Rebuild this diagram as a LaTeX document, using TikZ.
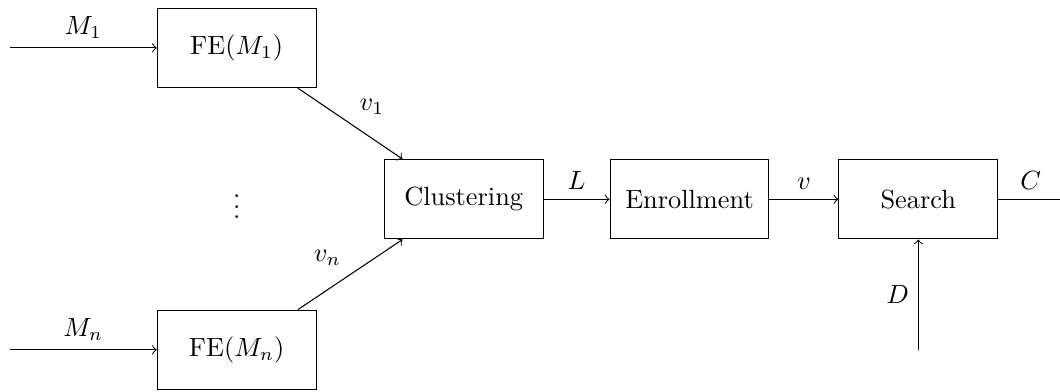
\documentclass[tikz,border=0pt]{standalone}
\usepackage{amsmath,amssymb}
\usetikzlibrary{positioning, calc}

\begin{document}
\begin{tikzpicture}[
    block/.style={rectangle, draw=black, minimum width=2.12cm, minimum height=1.06cm, align=center},
    arr/.style={->}
]
\useasboundingbox (0,0) rectangle (14.15,-5.23);

% Main chain
\node[block] (clu) at (6.19,-2.66) {Clustering};
\node[block, right=0.88cm of clu] (enr) {Enrollment};
\node[block, right=0.92cm of enr] (srch) {Search};

% Feature extraction per modality
\node[block] (fe1) at (3.16,-0.64) {FE($M_1$)};
\node[block] (fen) at (3.16,-4.67) {FE($M_n$)};
\node (dots) at ($(fe1)!0.5!(fen)$) {$\vdots$};

% Free ends
\coordinate[left=1.96cm of fe1] (in1);
\coordinate[left=1.96cm of fen] (inn);
\coordinate[below=1.48cm of srch] (dsrc);
\coordinate[right=0.87cm of srch] (cout);

% Connections
\draw[arr] (in1) -- node[above] {$M_1$} (fe1);
\draw[arr] (inn) -- node[above] {$M_n$} (fen);
\draw[arr] ([xshift=-0.25cm]fe1.south east) -- node[above right] {$v_1$} ([xshift=0.25cm]clu.north west);
\draw[arr] ([xshift=-0.25cm]fen.north east) -- node[above left] {$v_n$} ([xshift=0.25cm]clu.south west);
\draw[arr] (clu) -- node[above] {$L$} (enr);
\draw[arr] (enr) -- node[above] {$v$} (srch);
\draw[arr] (dsrc) -- node[left] {$D$} (srch);
\draw (srch) -- node[above] {$C$} (cout);

\end{tikzpicture}
\end{document}
